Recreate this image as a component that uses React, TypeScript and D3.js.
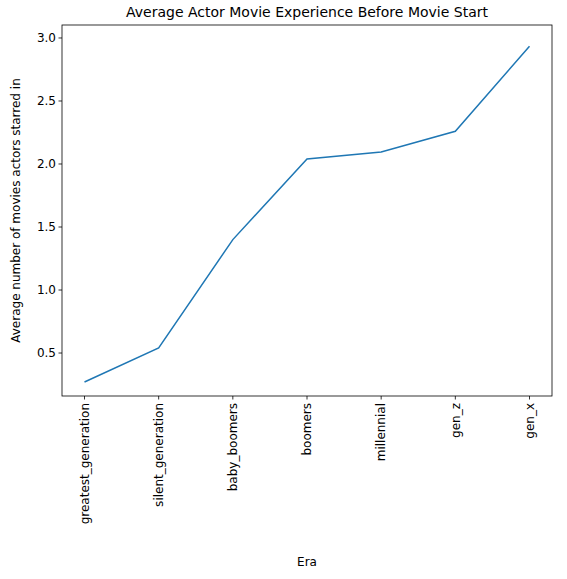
import * as d3 from "d3";

const eras = ["greatest_generation", "silent_generation", "baby_boomers", "boomers", "millennial", "gen_z", "gen_x"];
const avgMovies = [0.27, 0.54, 1.4, 2.04, 2.095, 2.26, 2.935];
const yTicks = [0.5, 1.0, 1.5, 2.0, 2.5, 3.0];

export default function App() {
  const width = 567;
  const height = 579;
  const m = { left: 62, right: 552, top: 25, bottom: 396 };

  const x = d3.scalePoint<string>().domain(eras).range([m.left + 22.5, m.right - 22.5]);
  const y = d3.scaleLinear().domain([0.159, 3.103]).range([m.bottom, m.top]);
  const line = d3
    .line<number>()
    .x((_, i) => x(eras[i]) as number)
    .y((d) => y(d));

  const font = "DejaVu Sans, sans-serif";

  return (
    <svg width={width} height={height} style={{ position: "absolute", left: 0, top: 0 }} fontFamily={font}>
      <rect width={width} height={height} fill="white" />
      <path d={line(avgMovies) ?? ""} fill="none" stroke="#1f77b4" strokeWidth={1.5} />
      <rect x={m.left} y={m.top} width={m.right - m.left} height={m.bottom - m.top} fill="none" stroke="black" strokeWidth={0.8} />
      {yTicks.map((t) => (
        <g key={t} transform={`translate(${m.left},${y(t)})`}>
          <line x1={-3.5} x2={0} stroke="black" strokeWidth={0.8} />
          <text x={-6} dy="0.35em" textAnchor="end" fontSize={12}>
            {t.toFixed(1)}
          </text>
        </g>
      ))}
      {eras.map((e) => (
        <g key={e} transform={`translate(${x(e)},${m.bottom})`}>
          <line y1={0} y2={3.5} stroke="black" strokeWidth={0.8} />
          <text transform="translate(0,7) rotate(-90)" textAnchor="end" dy="0.35em" fontSize={12}>
            {e}
          </text>
        </g>
      ))}
      <text x={(m.left + m.right) / 2} y={17} textAnchor="middle" fontSize={14}>
        Average Actor Movie Experience Before Movie Start
      </text>
      <text x={(m.left + m.right) / 2} y={566} textAnchor="middle" fontSize={12}>
        Era
      </text>
      <text transform={`translate(20,${(m.top + m.bottom) / 2}) rotate(-90)`} textAnchor="middle" fontSize={12}>
        Average number of movies actors starred in
      </text>
    </svg>
  );
}
